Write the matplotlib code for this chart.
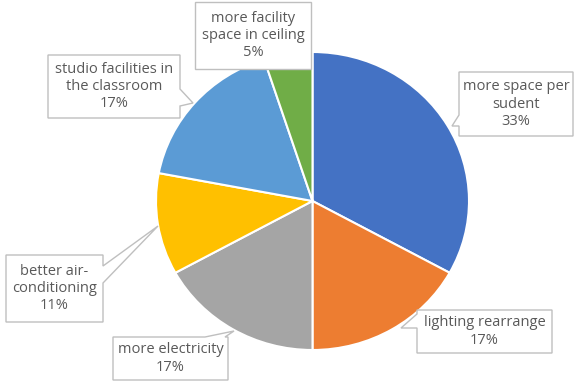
import matplotlib
matplotlib.use("Agg")
import matplotlib.pyplot as plt
from matplotlib.patches import Polygon

labels = ["more space per\nsudent", "lighting rearrange", "more electricity",
          "better air-\nconditioning", "studio facilities in\nthe classroom",
          "more facility\nspace in ceiling"]
values = [33, 17, 17, 11, 17, 5]
colors = ["#4472C4", "#ED7D31", "#A5A5A5", "#FFC000", "#5B9BD5", "#70AD47"]

W, H = 574, 381
fig = plt.figure(figsize=(W / 100, H / 100), dpi=100)
fig.patch.set_facecolor("white")

# pie axes (slightly elliptical like the reference)
cx0, cx1, cy0, cy1 = 156, 469, 52, 350
ax = fig.add_axes([cx0 / W, 1 - cy1 / H, (cx1 - cx0) / W, (cy1 - cy0) / H])
ax.pie(values, colors=colors, startangle=90, counterclock=False, radius=1,
       wedgeprops=dict(edgecolor="white", linewidth=1.5))
ax.set_xlim(-1, 1)
ax.set_ylim(-1, 1)
ax.set_aspect("auto")
ax.axis("off")

# overlay axes in pixel coords for callouts
ov = fig.add_axes([0, 0, 1, 1], zorder=5)
ov.set_xlim(0, W)
ov.set_ylim(H, 0)
ov.axis("off")
ov.patch.set_alpha(0)

# callouts: (box x0,y0,x1,y1), side, base points, tip
callouts = [
    ((459, 72, 573, 136), "left", (115, 126), (452, 126)),
    ((417, 310, 552, 353), "left", (314, 328), (401, 328)),
    ((113, 337, 228, 380), "top", (205, 225), (234, 331)),
    ((6, 255, 103, 322), "right", (266, 283), (158, 226)),
    ((48, 55, 180, 118), "right", (89, 106), (193, 103)),
    ((195, 2, 311, 69), None, None, None),
]

pcts = [f"{v}%" for v in values]

for (box, side, base, tip), lab, pct in zip(callouts, labels, pcts):
    x0, y0, x1, y1 = box
    if side == "top":
        verts = [(x0, y0), (base[0], y0), tip, (base[1], y0), (x1, y0), (x1, y1), (x0, y1)]
    elif side == "right":
        verts = [(x0, y0), (x1, y0), (x1, base[0]), tip, (x1, base[1]), (x1, y1), (x0, y1)]
    elif side == "left":
        verts = [(x0, y0), (x1, y0), (x1, y1), (x0, y1), (x0, base[1]), tip, (x0, base[0])]
    else:
        verts = [(x0, y0), (x1, y0), (x1, y1), (x0, y1)]
    ov.add_patch(Polygon(verts, closed=True, facecolor="white", edgecolor="#BFBFBF",
                         linewidth=1.0, joinstyle="miter"))
    ov.text((x0 + x1) / 2, (y0 + y1) / 2, f"{lab}\n{pct}", ha="center", va="center",
            fontsize=10.5, color="#595959", family="Open Sans", linespacing=1.22)

fig.savefig("out.png", dpi=100, facecolor="white")
